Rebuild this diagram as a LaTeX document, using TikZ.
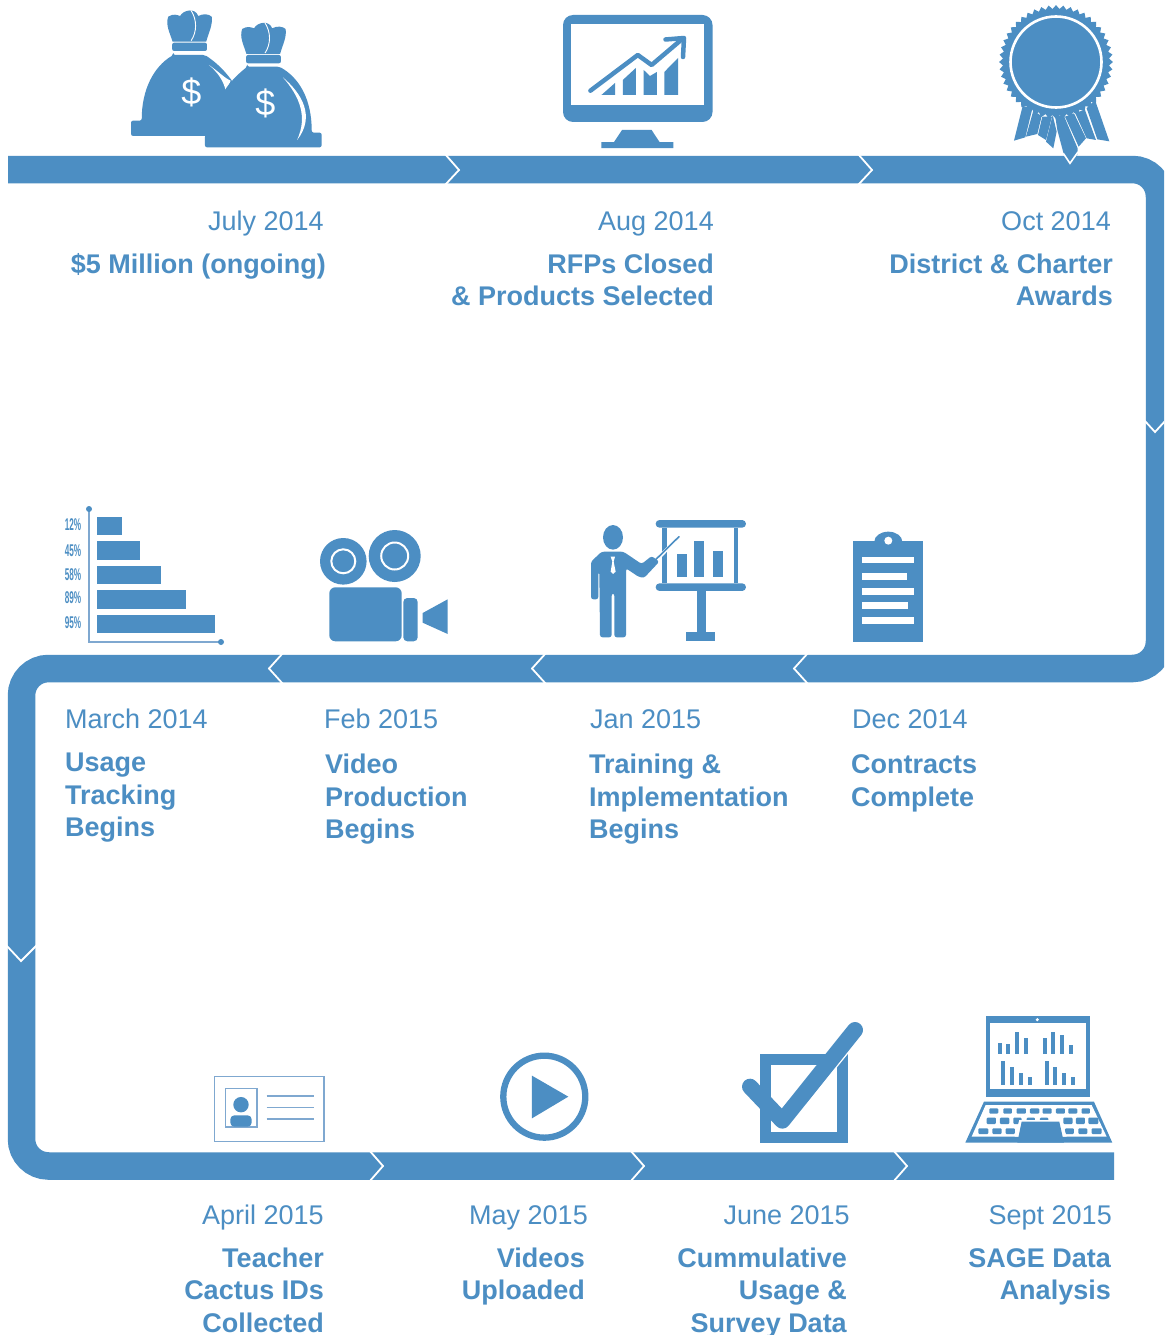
\documentclass[tikz,border=0pt]{standalone}
\usepackage{fontspec}
\setmainfont{Liberation Sans}
\definecolor{tl}{HTML}{4C8EC3}
\definecolor{tlthin}{HTML}{7FA8D0}
\tikzset{
  chev/.style={draw=white,line width=1.8pt,miter limit=10},
  datelabel/.style={text=tl,inner sep=0pt,font=\fontsize{27}{32.5}\selectfont},
  titlelabel/.style={text=tl,inner sep=0pt,font=\fontsize{27}{32.5}\selectfont\bfseries},
  pct/.style={text=tl,inner sep=0pt,font=\fontsize{17}{17}\selectfont\bfseries},
}
\begin{document}
\begin{tikzpicture}[x=1pt,y=-1pt]
\useasboundingbox (0,0) rectangle (1164,1335);
\fill[white] (0,0) rectangle (1164,1335);
% band
\begin{scope}
\clip (0,0) rectangle (1164,1335);
\draw[tl,line width=27.5pt,rounded corners=27pt] (8,169.5) -- (1159.5,169.5) -- (1159.5,668.5) -- (21.5,668.5) -- (21.5,1166) -- (1114,1166);
\foreach \x in {445,858} \draw[chev] (\x,154) -- (\x+14,170) -- (\x,185);
\foreach \x in {283,546,808} \draw[chev] (\x,653) -- (\x-14,668.5) -- (\x,684);
\foreach \x in {369,630,893} \draw[chev] (\x,1150) -- (\x+14,1166) -- (\x,1182);
\draw[chev] (1144,420) -- (1155,432) -- (1166,420);
\draw[chev] (6,945) -- (21,961) -- (37,945);
\end{scope}
% money bags
\begin{scope}[shift={(120,0)},x=0.3953pt,y=-0.3333pt]
\foreach \dx/\dy in {0/0,187/37}{
\begin{scope}[shift={(\dx,\dy)}]
\fill[tl] (133,125) .. controls (125,95) and (115,75) .. (122,50) .. controls (135,40) and (145,45) .. (152,48) .. controls (160,30) and (190,22) .. (198,48) .. controls (210,40) and (225,42) .. (232,50) .. controls (235,75) and (225,95) .. (218,125) -- cycle;
\draw[white,line width=.9pt] (180,32) .. controls (195,60) and (195,95) .. (180,122);
\fill[tl,rounded corners=2pt] (132,128) rectangle (220,153);
\end{scope}}
\fill[tl,rounded corners=2pt] (135,165) -- (215,165) .. controls (240,185) and (260,205) .. (285,245) -- (290,408) -- (28,408) -- (28,362) -- (55,362) .. controls (55,270) and (85,200) .. (135,165) -- cycle;
\fill[white] (225,195) .. controls (250,215) and (265,235) .. (280,242) -- (268,275) .. controls (262,240) and (245,215) .. (225,195) -- cycle;
\fill[tl,rounded corners=2pt] (322,200) -- (403,200) .. controls (455,235) and (485,300) .. (485,398) -- (510,398) -- (510,442) -- (215,442) -- (215,405) -- (240,350) .. controls (250,290) and (270,250) .. (322,200) -- cycle;
\fill[white] (412,232) .. controls (460,280) and (495,350) .. (448,420) .. controls (475,350) and (455,290) .. (412,232) -- cycle;
\end{scope}
\node[text=white,inner sep=0pt,font=\fontsize{36}{36}\selectfont] (d1) at (191.5,92) {\$};
\node[text=white,inner sep=0pt,font=\fontsize{36}{36}\selectfont] (d2) at (265.5,103) {\$};
% monitor
\fill[tl,rounded corners=10pt] (563,15) rectangle (712.5,122);
\fill[white] (570.6,24) rectangle (704,105);
\fill[tl] (622,130) -- (651.6,130) -- (659.5,142) -- (673.4,142) -- (673.4,148) -- (601.4,148) -- (601.4,142) -- (614,142) -- cycle;
\fill[tl] (601.4,95) -- (615,83) -- (615,95) -- cycle;
\fill[tl] (622.8,80) -- (635.8,68) -- (635.8,95) -- (622.8,95) -- cycle;
\fill[tl] (643.7,70) -- (650,76) -- (656.8,72) -- (656.8,95) -- (643.7,95) -- cycle;
\fill[tl] (664.3,72) -- (678,58) -- (678,95) -- (664.3,95) -- cycle;
\draw[white,line width=7pt,line join=round] (590.4,90.7) -- (637.8,55) -- (651.6,65) -- (683,38.3);
\draw[tl,line width=4.5pt,line cap=round,line join=round] (590.4,90.7) -- (637.8,55) -- (651.6,65) -- (683,38.3);
\draw[tl,line width=4.5pt,line cap=round,line join=round] (665.5,39.5) -- (684,38) -- (683,57);
% rosette
\fill[tl] plot[domain=0:96,samples=97] ({1056+(55+1.9*cos(180*mod(\x,2)))*cos(3.75*\x)},{62+(55+1.9*cos(180*mod(\x,2)))*sin(3.75*\x)}) -- cycle;
\draw[white,line width=2.6pt] (1056,62) circle (45.5);
\begin{scope}[shift={(840,0)},x=0.3333pt,y=-0.3333pt]
\fill[tl] (548,318) -- (522,422) -- (556,412) -- (577,326) -- cycle;
\fill[tl] (580,332) -- (558,410) -- (592,402) -- (605,348) -- cycle;
\fill[tl] (607,350) -- (594,405) -- (618,420) -- (636,350) -- cycle;
\fill[tl] (638,345) -- (650,395) -- (640,445) -- (618,425) -- cycle;
\fill[tl] (675,350) -- (702,340) -- (738,415) -- (716,440) -- cycle;
\fill[tl] (705,338) -- (735,330) -- (768,420) -- (740,415) -- cycle;
\fill[tl] (740,325) -- (765,300) -- (808,424) -- (772,418) -- cycle;
\fill[tl] (645,345) -- (672,348) -- (713,445) -- (712,465) -- (690,478) -- (672,465) -- (652,390) -- cycle;
\draw[white,line width=1.6pt] (670,460) -- (690,490) -- (714,456);
\end{scope}
% bar chart
\draw[tlthin,line width=1.4pt] (89,509) -- (89,642) -- (221,642);
\fill[tl] (89,509) circle (3);
\fill[tl] (221,642) circle (3);
\fill[tl] (96.5,516.7) rectangle (121.7,535);
\fill[tl] (96.5,541) rectangle (140,560);
\fill[tl] (96.5,565.7) rectangle (161.3,584.3);
\fill[tl] (96.5,590.3) rectangle (185.7,608.7);
\fill[tl] (96.5,615) rectangle (214.7,633.3);
\node[pct] (p1) at (73,525) {\scalebox{.48}[1]{12\%}};
\node[pct] (p2) at (73,551) {\scalebox{.48}[1]{45\%}};
\node[pct] (p3) at (73,574.5) {\scalebox{.48}[1]{58\%}};
\node[pct] (p4) at (73,598) {\scalebox{.48}[1]{89\%}};
\node[pct] (p5) at (73,623) {\scalebox{.48}[1]{95\%}};
% camera
\fill[tl] (343.3,561.3) circle (23.3);
\draw[white,line width=2pt] (343.3,561.3) circle (12);
\fill[tl] (394.7,556) circle (26);
\draw[white,line width=2pt] (394.7,556) circle (13.5);
\fill[tl,rounded corners=6pt] (329.3,587.3) rectangle (401.7,641.3);
\fill[tl,rounded corners=4pt] (403.3,598) -- (417.7,598) -- (417.7,641.3) -- (403.3,641.3) -- cycle;
\fill[tl] (422.7,613) -- (447.7,599.3) -- (447.7,634) -- (422.7,622.7) -- cycle;
% presenter
\begin{scope}[shift={(570,500)},x=0.3333pt,y=-0.3333pt]
\fill[tl] (129,112) ellipse (10pt and 12.3pt);
\fill[tl,rounded corners=2.5pt] (95,155) -- (160,155) -- (215,192) -- (245,168) -- (268,185) -- (222,234) -- (205,230) -- (168,205) -- (168,412) -- (133,412) -- (133,280) -- (125,280) -- (125,412) -- (90,412) -- (88,215) -- (85,215) -- (85,298) -- (63,298) -- (63,185) -- cycle;
\fill[white] (122,170) -- (135,170) -- (131,185) -- (137,215) -- (129,222) -- (122,215) -- (127,185) -- cycle;
\fill[tl,rounded corners=3.8pt] (257,60) rectangle (528,83);
\fill[tl,rounded corners=3.8pt] (257,250) rectangle (528,273);
\fill[tl] (277,83) rectangle (290,250);
\fill[tl] (492,83) rectangle (505,250);
\fill[tl] (380,273) rectangle (408,395);
\fill[tl] (348,395) rectangle (436,423);
\fill[tl] (320,162) rectangle (350,232);
\fill[tl] (373,122) rectangle (402,232);
\fill[tl] (428,152) rectangle (458,232);
\draw[white,line width=3.4pt] (262,178) -- (327,110);
\draw[tl,line width=1.6pt,line cap=round] (258,178) -- (327,110);
\end{scope}
% clipboard
\begin{scope}[shift={(570,500)},x=0.3333pt,y=-0.3333pt]
\fill[tl] (848,123) rectangle (1060,425);
\fill[tl] (955,125) ellipse (14pt and 10pt);
\fill[white] (955,122) circle (4pt);
\fill[white] (875,170) rectangle (1033,190);
\fill[white] (875,218) rectangle (1010,240);
\fill[white] (875,265) rectangle (1033,285);
\fill[white] (875,305) rectangle (1015,327);
\fill[white] (875,350) rectangle (1033,372);
\end{scope}
% ID card
\begin{scope}[shift={(200,1030)},x=0.3333pt,y=-0.3333pt]
\draw[tlthin,line width=1.3pt] (43,140) rectangle (372,334);
\draw[tlthin,line width=1.3pt] (76,176) rectangle (171,291);
\fill[tl] (123,224) circle (7.7pt);
\fill[tl,rounded corners=4pt] (91,290) -- (91,256) -- (155,256) -- (155,290) -- cycle;
\draw[tlthin,line width=1.2pt] (200,198) -- (342,198) (200,232) -- (342,232) (200,267) -- (342,267);
% play
\draw[tl,line width=6.3pt] (1033,200) circle (41pt);
\fill[tl] (996,137) -- (1105,200) -- (996,265) -- cycle;
\end{scope}
% checkbox
\begin{scope}[shift={(720,1000)},x=0.3333pt,y=-0.3333pt]
\draw[tl,line width=11pt] (137.5,179.5) rectangle (367.5,411.5);
\draw[white,line width=16pt] (307,218) -- (372,138);
\draw[tl,line width=16pt,line cap=round,line join=round] (90,260) -- (187,362) -- (405,90);
% laptop
\fill[tl] (797,47) rectangle (1110,292);
\fill[white] (810,68) rectangle (1097,266);
\fill[white] (952,59) circle (1.7pt);
\foreach \x/\t in {833/128,858/133,885/97,912/115,968/113,993/97,1020/105,1048/135}
  \fill[tl] (\x,\t) rectangle (\x+12,162);
\foreach \x/\t in {843/182,870/200,896/218,923/232,974/182,1000/200,1027/218,1054/232}
  \fill[tl] (\x,\t) rectangle (\x+12,255);
\fill[tl] (792,305) -- (1122,305) -- (1177,428) -- (736,428) -- cycle;
\fill[white] (797,315) -- (1115,315) -- (1160,410) -- (755,410) -- cycle;
\foreach \a/\b in {808/835,850/876,890/918,930/958,968/995,1008/1035,1045/1072,1085/1110}
  \fill[tl,rounded corners=1pt] (\a,325) rectangle (\b,341);
\foreach \a/\b in {800/828,840/868,880/905,920/945,960/985,1030/1058,1068/1095,1105/1135}
  \fill[tl,rounded corners=1pt] (\a,353) rectangle (\b,372);
\foreach \a/\b in {775/805,817/845,857/885,1035/1062,1075/1102,1115/1145}
  \fill[tl,rounded corners=1pt] (\a,385) rectangle (\b,402);
\fill[white] (898,360) -- (1025,360) -- (1040,410) -- (884,410) -- cycle;
\fill[tl] (905,365) -- (1018,365) -- (1032,428) -- (892,428) -- cycle;
\end{scope}
% labels row 1
\node[datelabel,anchor=base east] (t1) at (324,230) {July 2014};
\node[titlelabel,anchor=base east,align=right] (s1) at (326,273) {\$5 Million (ongoing)};
\node[datelabel,anchor=base east] (t2) at (714,230) {Aug 2014};
\node[titlelabel,anchor=base east,align=right] (s2) at (714,305.5) {RFPs Closed\\\& Products Selected};
\node[datelabel,anchor=base east] (t3) at (1111,230) {Oct 2014};
\node[titlelabel,anchor=base east,align=right] (s3) at (1113,305.5) {District \& Charter\\Awards};
% labels row 2
\node[datelabel,anchor=base west] (t4) at (65,728) {March 2014};
\node[titlelabel,anchor=base west,align=left] (s4) at (65,836.5) {Usage\\Tracking\\Begins};
\node[datelabel,anchor=base west] (t5) at (324,728) {Feb 2015};
\node[titlelabel,anchor=base west,align=left] (s5) at (325,838.5) {Video\\Production\\Begins};
\node[datelabel,anchor=base west] (t6) at (590,728) {Jan 2015};
\node[titlelabel,anchor=base west,align=left] (s6) at (589,838.5) {Training \&\\Implementation\\Begins};
\node[datelabel,anchor=base west] (t7) at (852,728) {Dec 2014};
\node[titlelabel,anchor=base west,align=left] (s7) at (851,806) {Contracts\\Complete};
% labels row 3
\node[datelabel,anchor=base east] (t8) at (324,1224) {April 2015};
\node[titlelabel,anchor=base east,align=right] (s8) at (324,1332) {Teacher\\Cactus IDs\\Collected};
\node[datelabel,anchor=base east] (t9) at (588,1224) {May 2015};
\node[titlelabel,anchor=base east,align=right] (s9) at (585,1299.5) {Videos\\Uploaded};
\node[datelabel,anchor=base east] (t10) at (850,1224) {June 2015};
\node[titlelabel,anchor=base east,align=right] (s10) at (847,1332) {Cummulative\\Usage \&\\Survey Data};
\node[datelabel,anchor=base east] (t11) at (1112,1224) {Sept 2015};
\node[titlelabel,anchor=base east,align=right] (s11) at (1111,1299.5) {SAGE Data\\Analysis};
\end{tikzpicture}
\end{document}
